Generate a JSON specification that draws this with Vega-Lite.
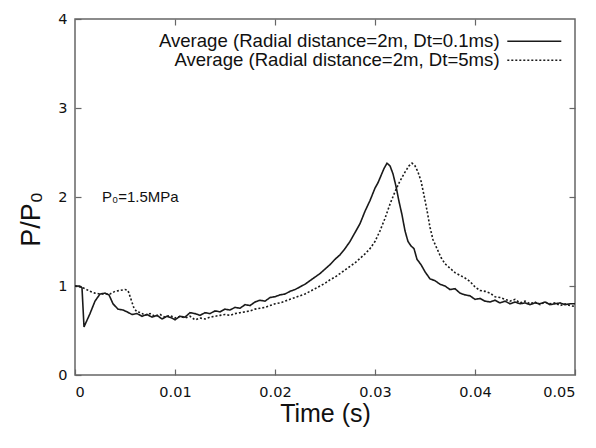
{
  "$schema": "https://vega.github.io/schema/vega-lite/v6.json",
  "autosize": {"type": "none"},
  "padding": {"left": 75, "top": 19, "right": 21, "bottom": 73},
  "width": 500,
  "height": 356,
  "background": "white",
  "config": {
    "view": {"stroke": "#666", "strokeWidth": 1.5},
    "axis": {"grid": false, "domain": false, "labelFont": "DejaVu Sans", "labelFontSize": 14.5, "labelColor": "#111", "tickColor": "#666", "tickWidth": 1.2, "titleFont": "Liberation Sans", "titleFontWeight": "normal", "titleColor": "#111"}
  },
  "layer": [
    {
      "data": {"values": [
        {"t":0,"p":1.00,"s":"Dt=0.1ms"},{"t":0.0005,"p":1.00,"s":"Dt=0.1ms"},{"t":0.0007,"p":0.98,"s":"Dt=0.1ms"},{"t":0.0009,"p":0.54,"s":"Dt=0.1ms"},{"t":0.0015,"p":0.69,"s":"Dt=0.1ms"},{"t":0.002,"p":0.83,"s":"Dt=0.1ms"},{"t":0.0025,"p":0.91,"s":"Dt=0.1ms"},{"t":0.003,"p":0.92,"s":"Dt=0.1ms"},{"t":0.0034,"p":0.90,"s":"Dt=0.1ms"},{"t":0.0038,"p":0.80,"s":"Dt=0.1ms"},{"t":0.0043,"p":0.74,"s":"Dt=0.1ms"},{"t":0.0048,"p":0.73,"s":"Dt=0.1ms"},{"t":0.0052,"p":0.71,"s":"Dt=0.1ms"},{"t":0.0057,"p":0.68,"s":"Dt=0.1ms"},{"t":0.0062,"p":0.69,"s":"Dt=0.1ms"},{"t":0.0067,"p":0.66,"s":"Dt=0.1ms"},{"t":0.0072,"p":0.68,"s":"Dt=0.1ms"},{"t":0.0077,"p":0.65,"s":"Dt=0.1ms"},{"t":0.0082,"p":0.67,"s":"Dt=0.1ms"},{"t":0.0087,"p":0.63,"s":"Dt=0.1ms"},{"t":0.0092,"p":0.66,"s":"Dt=0.1ms"},{"t":0.0097,"p":0.64,"s":"Dt=0.1ms"},{"t":0.01,"p":0.62,"s":"Dt=0.1ms"},{"t":0.0105,"p":0.66,"s":"Dt=0.1ms"},{"t":0.011,"p":0.65,"s":"Dt=0.1ms"},{"t":0.0115,"p":0.70,"s":"Dt=0.1ms"},{"t":0.012,"p":0.69,"s":"Dt=0.1ms"},{"t":0.0125,"p":0.67,"s":"Dt=0.1ms"},{"t":0.013,"p":0.70,"s":"Dt=0.1ms"},{"t":0.0135,"p":0.69,"s":"Dt=0.1ms"},{"t":0.014,"p":0.72,"s":"Dt=0.1ms"},{"t":0.0145,"p":0.71,"s":"Dt=0.1ms"},{"t":0.015,"p":0.74,"s":"Dt=0.1ms"},{"t":0.0155,"p":0.73,"s":"Dt=0.1ms"},{"t":0.016,"p":0.76,"s":"Dt=0.1ms"},{"t":0.0165,"p":0.75,"s":"Dt=0.1ms"},{"t":0.017,"p":0.79,"s":"Dt=0.1ms"},{"t":0.0175,"p":0.78,"s":"Dt=0.1ms"},{"t":0.018,"p":0.82,"s":"Dt=0.1ms"},{"t":0.0185,"p":0.84,"s":"Dt=0.1ms"},{"t":0.019,"p":0.83,"s":"Dt=0.1ms"},{"t":0.0195,"p":0.87,"s":"Dt=0.1ms"},{"t":0.02,"p":0.88,"s":"Dt=0.1ms"},{"t":0.0205,"p":0.90,"s":"Dt=0.1ms"},{"t":0.021,"p":0.91,"s":"Dt=0.1ms"},{"t":0.0215,"p":0.94,"s":"Dt=0.1ms"},{"t":0.022,"p":0.96,"s":"Dt=0.1ms"},{"t":0.0225,"p":0.99,"s":"Dt=0.1ms"},{"t":0.023,"p":1.02,"s":"Dt=0.1ms"},{"t":0.0235,"p":1.06,"s":"Dt=0.1ms"},{"t":0.024,"p":1.10,"s":"Dt=0.1ms"},{"t":0.0245,"p":1.14,"s":"Dt=0.1ms"},{"t":0.025,"p":1.19,"s":"Dt=0.1ms"},{"t":0.0255,"p":1.24,"s":"Dt=0.1ms"},{"t":0.026,"p":1.30,"s":"Dt=0.1ms"},{"t":0.0265,"p":1.35,"s":"Dt=0.1ms"},{"t":0.027,"p":1.42,"s":"Dt=0.1ms"},{"t":0.0275,"p":1.50,"s":"Dt=0.1ms"},{"t":0.028,"p":1.60,"s":"Dt=0.1ms"},{"t":0.0285,"p":1.70,"s":"Dt=0.1ms"},{"t":0.029,"p":1.84,"s":"Dt=0.1ms"},{"t":0.0295,"p":1.96,"s":"Dt=0.1ms"},{"t":0.03,"p":2.10,"s":"Dt=0.1ms"},{"t":0.0303,"p":2.16,"s":"Dt=0.1ms"},{"t":0.0306,"p":2.24,"s":"Dt=0.1ms"},{"t":0.0309,"p":2.32,"s":"Dt=0.1ms"},{"t":0.0312,"p":2.38,"s":"Dt=0.1ms"},{"t":0.0315,"p":2.35,"s":"Dt=0.1ms"},{"t":0.0318,"p":2.26,"s":"Dt=0.1ms"},{"t":0.0321,"p":2.12,"s":"Dt=0.1ms"},{"t":0.0324,"p":1.95,"s":"Dt=0.1ms"},{"t":0.0327,"p":1.80,"s":"Dt=0.1ms"},{"t":0.033,"p":1.62,"s":"Dt=0.1ms"},{"t":0.0333,"p":1.50,"s":"Dt=0.1ms"},{"t":0.0336,"p":1.45,"s":"Dt=0.1ms"},{"t":0.0339,"p":1.42,"s":"Dt=0.1ms"},{"t":0.0342,"p":1.30,"s":"Dt=0.1ms"},{"t":0.0346,"p":1.24,"s":"Dt=0.1ms"},{"t":0.035,"p":1.16,"s":"Dt=0.1ms"},{"t":0.0355,"p":1.08,"s":"Dt=0.1ms"},{"t":0.036,"p":1.06,"s":"Dt=0.1ms"},{"t":0.0365,"p":1.02,"s":"Dt=0.1ms"},{"t":0.037,"p":1.00,"s":"Dt=0.1ms"},{"t":0.0375,"p":0.96,"s":"Dt=0.1ms"},{"t":0.038,"p":0.97,"s":"Dt=0.1ms"},{"t":0.0385,"p":0.92,"s":"Dt=0.1ms"},{"t":0.039,"p":0.90,"s":"Dt=0.1ms"},{"t":0.0395,"p":0.89,"s":"Dt=0.1ms"},{"t":0.04,"p":0.85,"s":"Dt=0.1ms"},{"t":0.0405,"p":0.86,"s":"Dt=0.1ms"},{"t":0.041,"p":0.83,"s":"Dt=0.1ms"},{"t":0.0415,"p":0.82,"s":"Dt=0.1ms"},{"t":0.042,"p":0.84,"s":"Dt=0.1ms"},{"t":0.0425,"p":0.81,"s":"Dt=0.1ms"},{"t":0.043,"p":0.83,"s":"Dt=0.1ms"},{"t":0.0435,"p":0.80,"s":"Dt=0.1ms"},{"t":0.044,"p":0.82,"s":"Dt=0.1ms"},{"t":0.0445,"p":0.80,"s":"Dt=0.1ms"},{"t":0.045,"p":0.81,"s":"Dt=0.1ms"},{"t":0.0455,"p":0.79,"s":"Dt=0.1ms"},{"t":0.046,"p":0.81,"s":"Dt=0.1ms"},{"t":0.0465,"p":0.80,"s":"Dt=0.1ms"},{"t":0.047,"p":0.82,"s":"Dt=0.1ms"},{"t":0.0475,"p":0.79,"s":"Dt=0.1ms"},{"t":0.048,"p":0.80,"s":"Dt=0.1ms"},{"t":0.0485,"p":0.81,"s":"Dt=0.1ms"},{"t":0.049,"p":0.79,"s":"Dt=0.1ms"},{"t":0.0495,"p":0.80,"s":"Dt=0.1ms"},{"t":0.05,"p":0.80,"s":"Dt=0.1ms"},
        {"t":0,"p":1.00,"s":"Dt=5ms"},{"t":0.0005,"p":0.99,"s":"Dt=5ms"},{"t":0.001,"p":0.97,"s":"Dt=5ms"},{"t":0.0015,"p":0.94,"s":"Dt=5ms"},{"t":0.002,"p":0.92,"s":"Dt=5ms"},{"t":0.0025,"p":0.91,"s":"Dt=5ms"},{"t":0.003,"p":0.91,"s":"Dt=5ms"},{"t":0.0035,"p":0.91,"s":"Dt=5ms"},{"t":0.004,"p":0.94,"s":"Dt=5ms"},{"t":0.0045,"p":0.95,"s":"Dt=5ms"},{"t":0.005,"p":0.96,"s":"Dt=5ms"},{"t":0.0053,"p":0.95,"s":"Dt=5ms"},{"t":0.0056,"p":0.85,"s":"Dt=5ms"},{"t":0.0059,"p":0.75,"s":"Dt=5ms"},{"t":0.0062,"p":0.71,"s":"Dt=5ms"},{"t":0.0066,"p":0.70,"s":"Dt=5ms"},{"t":0.007,"p":0.67,"s":"Dt=5ms"},{"t":0.0075,"p":0.69,"s":"Dt=5ms"},{"t":0.008,"p":0.66,"s":"Dt=5ms"},{"t":0.0085,"p":0.68,"s":"Dt=5ms"},{"t":0.009,"p":0.65,"s":"Dt=5ms"},{"t":0.0095,"p":0.67,"s":"Dt=5ms"},{"t":0.01,"p":0.64,"s":"Dt=5ms"},{"t":0.0105,"p":0.66,"s":"Dt=5ms"},{"t":0.011,"p":0.64,"s":"Dt=5ms"},{"t":0.0115,"p":0.66,"s":"Dt=5ms"},{"t":0.012,"p":0.62,"s":"Dt=5ms"},{"t":0.0125,"p":0.64,"s":"Dt=5ms"},{"t":0.013,"p":0.63,"s":"Dt=5ms"},{"t":0.0135,"p":0.65,"s":"Dt=5ms"},{"t":0.014,"p":0.66,"s":"Dt=5ms"},{"t":0.0145,"p":0.67,"s":"Dt=5ms"},{"t":0.015,"p":0.68,"s":"Dt=5ms"},{"t":0.0155,"p":0.67,"s":"Dt=5ms"},{"t":0.016,"p":0.69,"s":"Dt=5ms"},{"t":0.0165,"p":0.70,"s":"Dt=5ms"},{"t":0.017,"p":0.71,"s":"Dt=5ms"},{"t":0.0175,"p":0.72,"s":"Dt=5ms"},{"t":0.018,"p":0.74,"s":"Dt=5ms"},{"t":0.0185,"p":0.75,"s":"Dt=5ms"},{"t":0.019,"p":0.76,"s":"Dt=5ms"},{"t":0.0195,"p":0.78,"s":"Dt=5ms"},{"t":0.02,"p":0.80,"s":"Dt=5ms"},{"t":0.0205,"p":0.81,"s":"Dt=5ms"},{"t":0.021,"p":0.83,"s":"Dt=5ms"},{"t":0.0215,"p":0.85,"s":"Dt=5ms"},{"t":0.022,"p":0.87,"s":"Dt=5ms"},{"t":0.0225,"p":0.89,"s":"Dt=5ms"},{"t":0.023,"p":0.91,"s":"Dt=5ms"},{"t":0.0235,"p":0.94,"s":"Dt=5ms"},{"t":0.024,"p":0.97,"s":"Dt=5ms"},{"t":0.0245,"p":1.00,"s":"Dt=5ms"},{"t":0.025,"p":1.03,"s":"Dt=5ms"},{"t":0.0255,"p":1.07,"s":"Dt=5ms"},{"t":0.026,"p":1.10,"s":"Dt=5ms"},{"t":0.0265,"p":1.14,"s":"Dt=5ms"},{"t":0.027,"p":1.18,"s":"Dt=5ms"},{"t":0.0275,"p":1.22,"s":"Dt=5ms"},{"t":0.028,"p":1.26,"s":"Dt=5ms"},{"t":0.0285,"p":1.31,"s":"Dt=5ms"},{"t":0.029,"p":1.36,"s":"Dt=5ms"},{"t":0.0295,"p":1.42,"s":"Dt=5ms"},{"t":0.03,"p":1.50,"s":"Dt=5ms"},{"t":0.0305,"p":1.62,"s":"Dt=5ms"},{"t":0.031,"p":1.76,"s":"Dt=5ms"},{"t":0.0315,"p":1.92,"s":"Dt=5ms"},{"t":0.032,"p":2.06,"s":"Dt=5ms"},{"t":0.0325,"p":2.18,"s":"Dt=5ms"},{"t":0.033,"p":2.28,"s":"Dt=5ms"},{"t":0.0334,"p":2.35,"s":"Dt=5ms"},{"t":0.0337,"p":2.38,"s":"Dt=5ms"},{"t":0.034,"p":2.35,"s":"Dt=5ms"},{"t":0.0343,"p":2.28,"s":"Dt=5ms"},{"t":0.0346,"p":2.18,"s":"Dt=5ms"},{"t":0.0349,"p":2.02,"s":"Dt=5ms"},{"t":0.0352,"p":1.85,"s":"Dt=5ms"},{"t":0.0355,"p":1.66,"s":"Dt=5ms"},{"t":0.0358,"p":1.52,"s":"Dt=5ms"},{"t":0.0362,"p":1.42,"s":"Dt=5ms"},{"t":0.0366,"p":1.32,"s":"Dt=5ms"},{"t":0.037,"p":1.25,"s":"Dt=5ms"},{"t":0.0375,"p":1.20,"s":"Dt=5ms"},{"t":0.038,"p":1.15,"s":"Dt=5ms"},{"t":0.0385,"p":1.12,"s":"Dt=5ms"},{"t":0.039,"p":1.09,"s":"Dt=5ms"},{"t":0.0395,"p":1.05,"s":"Dt=5ms"},{"t":0.04,"p":0.99,"s":"Dt=5ms"},{"t":0.0405,"p":0.95,"s":"Dt=5ms"},{"t":0.041,"p":0.94,"s":"Dt=5ms"},{"t":0.0415,"p":0.92,"s":"Dt=5ms"},{"t":0.042,"p":0.88,"s":"Dt=5ms"},{"t":0.0425,"p":0.87,"s":"Dt=5ms"},{"t":0.043,"p":0.85,"s":"Dt=5ms"},{"t":0.0435,"p":0.83,"s":"Dt=5ms"},{"t":0.044,"p":0.85,"s":"Dt=5ms"},{"t":0.0445,"p":0.81,"s":"Dt=5ms"},{"t":0.045,"p":0.83,"s":"Dt=5ms"},{"t":0.0455,"p":0.80,"s":"Dt=5ms"},{"t":0.046,"p":0.82,"s":"Dt=5ms"},{"t":0.0465,"p":0.79,"s":"Dt=5ms"},{"t":0.047,"p":0.82,"s":"Dt=5ms"},{"t":0.0475,"p":0.80,"s":"Dt=5ms"},{"t":0.048,"p":0.81,"s":"Dt=5ms"},{"t":0.0485,"p":0.78,"s":"Dt=5ms"},{"t":0.049,"p":0.80,"s":"Dt=5ms"},{"t":0.0495,"p":0.78,"s":"Dt=5ms"},{"t":0.05,"p":0.77,"s":"Dt=5ms"}
      ]},
      "mark": {"type": "line", "color": "#1a1a1a", "strokeWidth": 1.6, "clip": true},
      "encoding": {
        "x": {"field": "t", "type": "quantitative", "scale": {"domain": [0, 0.05], "nice": false},
          "axis": {"orient": "bottom", "values": [0, 0.01, 0.02, 0.03, 0.04, 0.05], "format": "~g", "tickSize": -6, "labelPadding": 16, "title": "Time (s)", "titleFontSize": 25, "titlePadding": 3}},
        "y": {"field": "p", "type": "quantitative", "scale": {"domain": [0, 4], "nice": false},
          "axis": {"orient": "left", "values": [0, 1, 2, 3, 4], "format": "d", "tickSize": -6, "labelPadding": 14, "title": "P/P₀", "titleFontSize": 27, "titlePadding": 12, "titleY": 200}},
        "strokeDash": {"field": "s", "type": "nominal",
          "scale": {"domain": ["Dt=0.1ms", "Dt=5ms"], "range": [[1, 0], [2, 2]]},
          "legend": {"orient": "none", "legendX": 428, "legendY": 13, "title": null, "symbolType": "M-1,0H9.8", "symbolSize": 100, "symbolStrokeWidth": 1.5, "symbolStrokeColor": "#1a1a1a", "labelAlign": "right", "labelOffset": -22, "labelFont": "Liberation Sans", "labelFontSize": 18.6, "labelColor": "#111", "labelLimit": 0, "rowPadding": 0, "padding": 0,
            "labelExpr": "'Average (Radial distance=2m, ' + datum.label + ')'"}}
      }
    },
    {
      "data": {"values": [{"t": 0.0027, "p": 2.0, "label": "P₀=1.5MPa"}]},
      "mark": {"type": "text", "align": "left", "baseline": "middle", "font": "Liberation Sans", "fontSize": 15, "color": "#111"},
      "encoding": {
        "x": {"field": "t", "type": "quantitative", "axis": {"orient": "top", "values": [0.01, 0.02, 0.03, 0.04], "labels": false, "tickSize": -6, "title": null}},
        "y": {"field": "p", "type": "quantitative", "axis": {"orient": "right", "values": [1, 2, 3], "labels": false, "tickSize": -6, "title": null}},
        "text": {"field": "label"}
      }
    }
  ]
}
